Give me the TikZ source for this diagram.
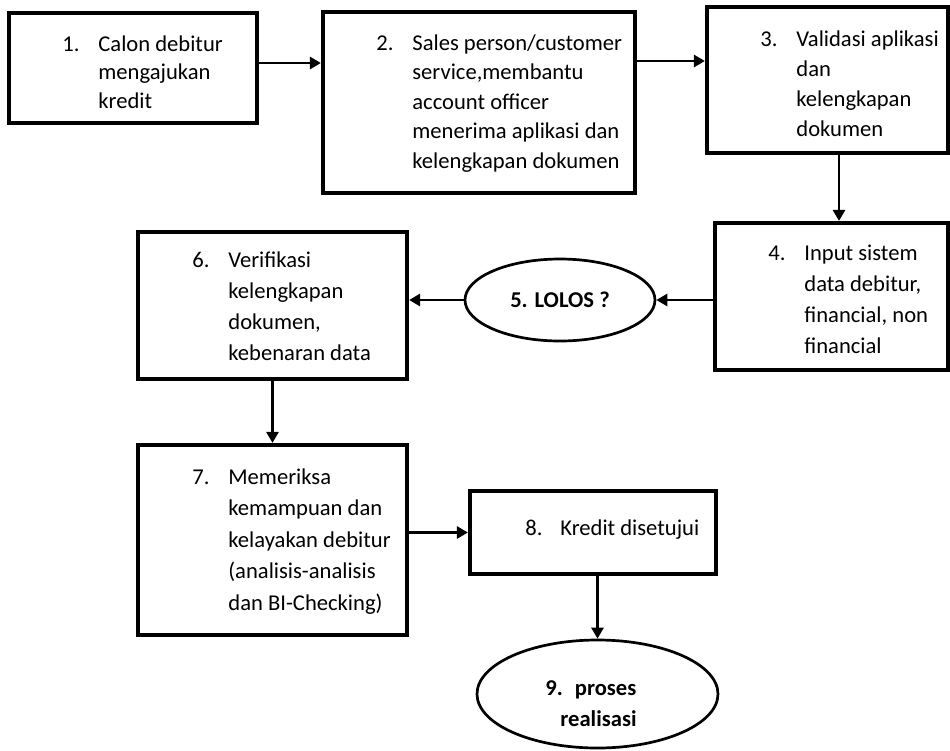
\documentclass[tikz,border=0pt]{standalone}
\usepackage{fontspec}
\setmainfont{Carlito}
\usetikzlibrary{arrows.meta,shapes.geometric}

\begin{document}
\begin{tikzpicture}[x=0.5pt,y=-0.5pt,
  box/.style={draw,line width=2.1pt,inner sep=0pt},
  oval/.style={draw,ellipse,line width=1.35pt,inner sep=0pt},
  txt/.style={inner sep=0pt,anchor=base west,font=\fontsize{11.3}{#1}\selectfont},
  txt/.default=14.5,
  arr/.style={line width=1.4pt,-{Triangle[length=5.5pt,width=6pt]}}]
  \useasboundingbox (0,0) rectangle (950,751);

  % frames of the steps
  \node[box,minimum width=124pt,minimum height=55pt] (b1) at (133,68) {};
  \node[box,minimum width=156pt,minimum height=90.5pt] (b2) at (479,102.5) {};
  \node[box,minimum width=120.5pt,minimum height=73pt] (b3) at (827.5,80) {};
  \node[box,minimum width=116.5pt,minimum height=73.5pt] (b4) at (831.5,296.5) {};
  \node[oval,minimum width=95pt,minimum height=41pt] (e5) at (560,300) {};
  \node[box,minimum width=134.5pt,minimum height=73.5pt] (b6) at (272.5,305.5) {};
  \node[box,minimum width=134.5pt,minimum height=95pt] (b7) at (272.5,540) {};
  \node[box,minimum width=123pt,minimum height=41.5pt] (b8) at (593,532.5) {};
  \node[oval,minimum width=120.5pt,minimum height=54pt] (e9) at (597.5,694) {};

  % texts
  \node[txt=14.4] (t1) at (62,51) {\begin{tabular}[t]{@{}p{18pt}@{}l@{}}
    1. & Calon debitur\\ & mengajukan\\ & kredit\end{tabular}};
  \node[txt=14.75] (t2) at (376,50) {\begin{tabular}[t]{@{}p{18pt}@{}l@{}}
    2. & Sales person/customer\\ & service,membantu\\ & account officer\\
       & menerima aplikasi dan\\ & kelengkapan dokumen\end{tabular}};
  \node[txt=15] (t3) at (760,46) {\begin{tabular}[t]{@{}p{18pt}@{}l@{}}
    3. & Validasi aplikasi\\ & dan\\ & kelengkapan\\ & dokumen\end{tabular}};
  \node[txt=15.5] (t4) at (768,260) {\begin{tabular}[t]{@{}p{18pt}@{}l@{}}
    4. & Input sistem\\ & data debitur,\\ & financial, non\\ & financial\end{tabular}};
  \node[inner sep=0pt,anchor=base,font=\fontsize{11.3}{14.5}\selectfont\bfseries] (t5) at (560,307) {5. LOLOS ?};
  \node[txt=15.5] (t6) at (192,267) {\begin{tabular}[t]{@{}p{18pt}@{}l@{}}
    6. & Verifikasi\\ & kelengkapan\\ & dokumen,\\ & kebenaran data\end{tabular}};
  \node[txt=15.75] (t7) at (192,484) {\begin{tabular}[t]{@{}p{18pt}@{}l@{}}
    7. & Memeriksa\\ & kemampuan dan\\ & kelayakan debitur\\
       & (analisis-analisis\\ & dan BI-Checking)\end{tabular}};
  \node[txt] (t8) at (525,535) {\begin{tabular}[t]{@{}p{17.5pt}@{}l@{}}
    8. & Kredit disetujui\end{tabular}};
  \node[txt=15.5,font=\fontsize{11.3}{15.5}\selectfont\bfseries] (t9) at (545,695) {\begin{tabular}[t]{@{}l@{}}
    9.\hspace{6pt}proses\\ \hspace*{7.5pt}realisasi\end{tabular}};

  % flow
  \draw[arr] (b1.east |- 0,63) -- (b2.west |- 0,63);
  \draw[arr] (b2.east |- 0,61) -- (b3.west |- 0,61);
  \draw[arr] (b3.south -| 839,0) -- (b4.north -| 839,0);
  \draw[arr] (b4.west |- e5.east) -- (e5.east);
  \draw[arr] (e5.west) -- (b6.east |- e5.west);
  \draw[arr] (b6.south) -- (b7.north);
  \draw[arr] (b7.east |- b8.west) -- (b8.west);
  \draw[arr] (b8.south -| e9.north) -- (e9.north);
\end{tikzpicture}
\end{document}
